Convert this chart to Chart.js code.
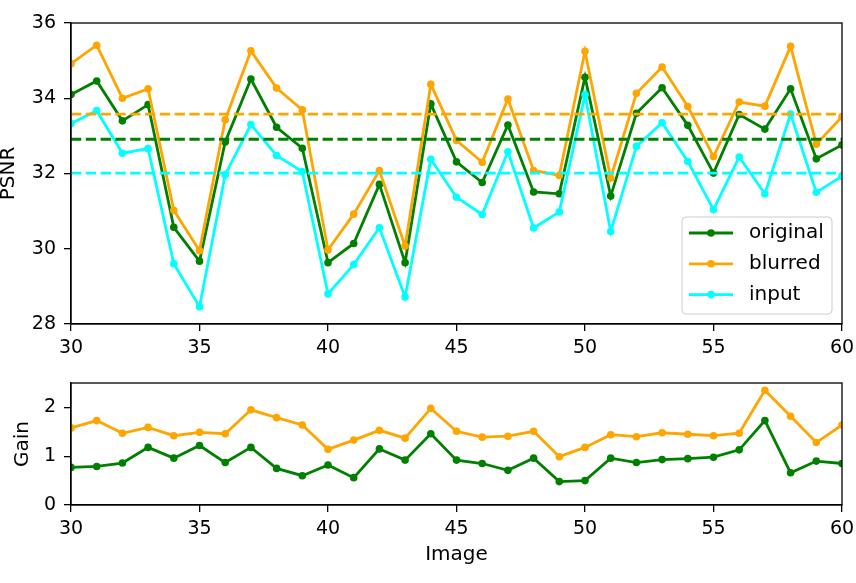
<!DOCTYPE html>
<html lang="en">
<head>
    <meta charset="UTF-8">
    <title>PSNR and Gain per image</title>
    <script src="https://cdn.jsdelivr.net/npm/chart.js@4.4.0/dist/chart.umd.min.js"></script>
    <style>
        body {
            margin: 0;
            background: white;
        }
        #wrap {
            position: relative;
            width: 856px;
            height: 583px;
        }
        canvas {
            position: absolute;
            left: 0;
        }
        #psnr { top: 0; }
        #gain { top: 360px; }
    </style>
</head>
<body>
    <div id="wrap">
        <canvas id="psnr" width="856" height="360"></canvas>
        <canvas id="gain" width="856" height="223"></canvas>
    </div>

    <script>
        const images = [30, 31, 32, 33, 34, 35, 36, 37, 38, 39, 40, 41, 42, 43, 44, 45,
                        46, 47, 48, 49, 50, 51, 52, 53, 54, 55, 56, 57, 58, 59, 60];

        const original = [34.10, 34.46, 33.40, 33.83, 30.57, 29.67, 32.84, 34.51, 33.23, 32.67, 29.63,
                          30.14, 31.71, 29.63, 33.85, 32.31, 31.76, 33.29, 31.51, 31.46, 34.56,
                          31.40, 33.60, 34.28, 33.28, 32.01, 33.57, 33.18, 34.25, 32.39, 32.76];
        const blurred = [34.92, 35.41, 34.00, 34.25, 31.02, 29.95, 33.43, 35.26, 34.27, 33.69, 29.97,
                         30.92, 32.08, 30.07, 34.37, 32.88, 32.30, 33.98, 32.08, 31.95, 35.25,
                         31.88, 34.13, 34.83, 33.78, 32.45, 33.90, 33.79, 35.38, 32.78, 33.51];
        const input = [33.33, 33.67, 32.54, 32.66, 29.60, 28.46, 31.97, 33.30, 32.48, 32.05, 28.80,
                       29.58, 30.56, 28.72, 32.38, 31.37, 30.91, 32.58, 30.55, 30.98, 34.09,
                       30.46, 32.72, 33.35, 32.32, 31.04, 32.44, 31.46, 33.58, 31.50, 31.93];

        // dashed averages: original, blurred, input
        const meanPsnr = [32.91, 33.58, 32.01];

        const gainOriginal = [0.77, 0.79, 0.86, 1.18, 0.96, 1.22, 0.87, 1.18, 0.75, 0.60, 0.82,
                              0.56, 1.15, 0.92, 1.46, 0.92, 0.85, 0.71, 0.96, 0.48, 0.50,
                              0.96, 0.87, 0.93, 0.95, 0.98, 1.13, 1.73, 0.66, 0.90, 0.85];
        const gainBlurred = [1.58, 1.73, 1.47, 1.59, 1.42, 1.49, 1.46, 1.95, 1.79, 1.64, 1.14,
                             1.33, 1.53, 1.37, 1.98, 1.51, 1.39, 1.41, 1.51, 0.99, 1.18,
                             1.44, 1.40, 1.48, 1.45, 1.42, 1.47, 2.35, 1.82, 1.28, 1.64];

        const psnrTicks = [28, 30, 32, 34, 36];
        const gainTicks = [0, 1, 2];
        const imageTicks = [30, 35, 40, 45, 50, 55, 60];

        const GREEN = '#008000';
        const ORANGE = '#ffa500';
        const CYAN = '#00ffff';
        const TICK_FONT = 19;
        const LABEL_FONT = 20;
        const LW = 2.8;

        Chart.defaults.font.family = '"DejaVu Sans", sans-serif';
        Chart.defaults.font.size = TICK_FONT;
        Chart.defaults.color = '#000';

        function points(values) {
            return images.map((x, i) => ({ x: x, y: values[i] }));
        }

        function series(label, values, color, order) {
            return {
                label: label,
                data: points(values),
                borderColor: color,
                backgroundColor: color,
                borderWidth: LW,
                pointRadius: 3.8,
                pointBorderWidth: 0,
                pointBackgroundColor: color,
                tension: 0,
                clip: 0,
                order: order,
                inLegend: true
            };
        }

        function meanLine(value, color) {
            return {
                label: 'mean',
                data: [{ x: images[0], y: value }, { x: images[images.length - 1], y: value }],
                borderColor: color,
                borderWidth: LW,
                borderDash: [10.3, 4.5],
                pointRadius: 0,
                clip: 0,
                order: 0
            };
        }

        // matplotlib style box around the plot area
        const framePlugin = {
            id: 'frame',
            afterDraw(chart) {
                const a = chart.chartArea, ctx = chart.ctx;
                ctx.save();
                ctx.strokeStyle = '#000';
                ctx.lineWidth = 1.3;
                ctx.strokeRect(a.left, a.top, a.right - a.left, a.bottom - a.top);
                ctx.restore();
            }
        };

        const boxLegend = {
            id: 'boxLegend',
            afterDraw(chart) {
                const items = chart.data.datasets.filter(d => d.inLegend);
                const a = chart.chartArea, ctx = chart.ctx;
                const w = 150, h = 97;
                const x = a.right - 10 - w, y = a.bottom - 10 - h;
                ctx.save();
                ctx.beginPath();
                ctx.roundRect(x, y, w, h, 4);
                ctx.fillStyle = 'rgba(255,255,255,0.8)';
                ctx.fill();
                ctx.strokeStyle = '#cccccc';
                ctx.lineWidth = 1;
                ctx.stroke();
                ctx.font = LABEL_FONT + 'px "DejaVu Sans"';
                ctx.textBaseline = 'middle';
                items.forEach((d, i) => {
                    const cy = y + 16 + i * 30.8;
                    ctx.strokeStyle = d.borderColor;
                    ctx.lineWidth = LW;
                    ctx.beginPath();
                    ctx.moveTo(x + 7, cy);
                    ctx.lineTo(x + 51, cy);
                    ctx.stroke();
                    ctx.fillStyle = d.borderColor;
                    ctx.beginPath();
                    ctx.arc(x + 29, cy, 3.8, 0, Math.PI * 2);
                    ctx.fill();
                    ctx.fillStyle = '#000';
                    ctx.fillText(d.label, x + 67, cy);
                });
                ctx.restore();
            }
        };

        function xScale(height, withTitle) {
            return {
                type: 'linear',
                min: imageTicks[0],
                max: imageTicks[imageTicks.length - 1],
                afterFit: s => {
                    s.height = height;
                    s.paddingLeft = 0;
                    s.paddingRight = 0;
                },
                afterBuildTicks: s => { s.ticks = imageTicks.map(v => ({ value: v })); },
                ticks: { padding: 6, maxRotation: 0 },
                grid: { drawOnChartArea: false, tickLength: 7, color: '#000', lineWidth: 1.3 },
                border: { color: '#000', width: 1.3 },
                title: {
                    display: withTitle,
                    text: 'Image',
                    font: { size: LABEL_FONT, lineHeight: 1 },
                    padding: { top: 0, bottom: 18 }
                }
            };
        }

        function yScale(tickValues, min, max, label, titlePad) {
            return {
                min: min,
                max: max,
                afterFit: s => {
                    s.width = 71;
                    s.paddingTop = 0;
                    s.paddingBottom = 0;
                },
                afterBuildTicks: s => { s.ticks = tickValues.map(v => ({ value: v })); },
                ticks: { padding: 8 },
                grid: { drawOnChartArea: false, tickLength: 7, color: '#000', lineWidth: 1.3 },
                border: { color: '#000', width: 1.3 },
                title: {
                    display: true,
                    text: label,
                    font: { size: LABEL_FONT, lineHeight: 1 },
                    padding: { top: titlePad, bottom: 0 }
                }
            };
        }

        const common = {
            responsive: false,
            animation: false,
            devicePixelRatio: 1,
            plugins: { legend: { display: false }, tooltip: { enabled: false } }
        };

        new Chart(document.getElementById('psnr'), {
            type: 'line',
            data: {
                datasets: [
                    series('original', original, GREEN, 3),
                    series('blurred', blurred, ORANGE, 2),
                    series('input', input, CYAN, 1),
                    meanLine(meanPsnr[0], GREEN),
                    meanLine(meanPsnr[1], ORANGE),
                    meanLine(meanPsnr[2], CYAN)
                ]
            },
            options: Object.assign({}, common, {
                layout: { padding: { top: 23, right: 14, left: 0, bottom: 0 } },
                scales: {
                    x: xScale(36, false),
                    y: yScale(psnrTicks, 28, 36, 'PSNR', -1)
                }
            }),
            plugins: [framePlugin, boxLegend]
        });

        new Chart(document.getElementById('gain'), {
            type: 'line',
            data: {
                datasets: [
                    series('original', gainOriginal, GREEN, 2),
                    series('blurred', gainBlurred, ORANGE, 1)
                ]
            },
            options: Object.assign({}, common, {
                layout: { padding: { top: 23, right: 14, left: 0, bottom: 0 } },
                scales: {
                    x: xScale(78, true),
                    y: yScale(gainTicks, 0, 2.5, 'Gain', 13)
                }
            }),
            plugins: [framePlugin]
        });
    </script>
</body>
</html>
